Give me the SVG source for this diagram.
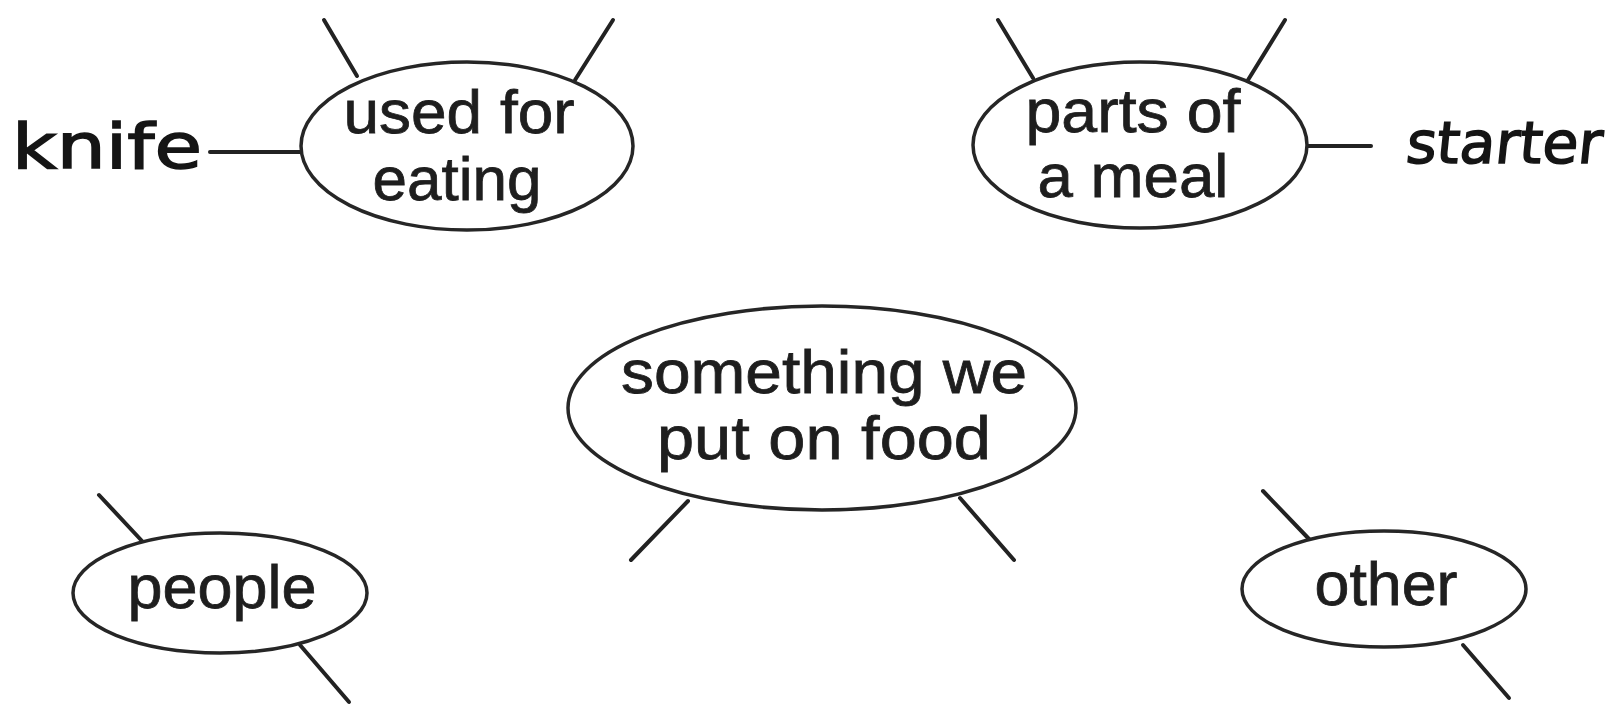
<svg xmlns="http://www.w3.org/2000/svg" width="1610" height="707" viewBox="0 0 1610 707">
<style>
.bg{fill:#ffffff}
.node ellipse{fill:#ffffff;stroke:#262626;stroke-width:3.5}
.lbl{font-family:"Liberation Sans",Arial,sans-serif;font-size:62px;fill:#1e1e1e;stroke:#1e1e1e;stroke-width:0.8;text-anchor:middle}
.hand{font-family:"DejaVu Sans",sans-serif;font-size:62px;fill:#151515;stroke:#151515;stroke-width:1.5}
#connectors line{stroke:#222;stroke-width:4;stroke-linecap:round}
</style>
<rect class="bg" x="0" y="0" width="1610" height="707"/>
<g id="connectors">
  <line x1="324" y1="20" x2="357" y2="76"/>
  <line x1="613" y1="20" x2="575" y2="80"/>
  <line x1="210" y1="152" x2="301" y2="152"/>
  <line x1="998" y1="20" x2="1033" y2="78"/>
  <line x1="1285" y1="20" x2="1248" y2="80"/>
  <line x1="1307" y1="146" x2="1371" y2="146"/>
  <line x1="688" y1="501" x2="631" y2="560"/>
  <line x1="960" y1="498" x2="1014" y2="560"/>
  <line x1="99" y1="495" x2="142" y2="541"/>
  <line x1="300" y1="645" x2="349" y2="702"/>
  <line x1="1263" y1="491" x2="1309" y2="539"/>
  <line x1="1463" y1="645" x2="1509" y2="698"/>
</g>
<g id="node-used-for-eating" class="node">
  <ellipse cx="467" cy="146" rx="166" ry="84"/>
  <text class="lbl" x="459" y="133" textLength="231" lengthAdjust="spacingAndGlyphs">used for</text>
  <text class="lbl" x="457" y="200" textLength="169" lengthAdjust="spacingAndGlyphs">eating</text>
</g>
<g id="node-knife">
  <text class="hand" x="12" y="168" textLength="190" lengthAdjust="spacingAndGlyphs">knife</text>
</g>
<g id="node-parts-of-a-meal" class="node">
  <ellipse cx="1140" cy="145" rx="167" ry="83"/>
  <text class="lbl" x="1133" y="132" textLength="215" lengthAdjust="spacingAndGlyphs">parts of</text>
  <text class="lbl" x="1133" y="197" textLength="191" lengthAdjust="spacingAndGlyphs">a meal</text>
</g>
<g id="node-starter">
  <text class="hand" x="1406" y="163" textLength="196" lengthAdjust="spacingAndGlyphs" transform="translate(0 150) skewX(-6) translate(0 -150)" style="font-size:58px">starter</text>
</g>
<g id="node-something-we-put-on-food" class="node">
  <ellipse cx="822" cy="408" rx="254" ry="102"/>
  <text class="lbl" x="824" y="393" textLength="406" lengthAdjust="spacingAndGlyphs">something we</text>
  <text class="lbl" x="824" y="459" textLength="334" lengthAdjust="spacingAndGlyphs">put on food</text>
</g>
<g id="node-people" class="node">
  <ellipse cx="220" cy="593" rx="147" ry="60"/>
  <text class="lbl" x="222" y="608" textLength="189" lengthAdjust="spacingAndGlyphs">people</text>
</g>
<g id="node-other" class="node">
  <ellipse cx="1384" cy="589" rx="142" ry="58"/>
  <text class="lbl" x="1386" y="605" textLength="143" lengthAdjust="spacingAndGlyphs">other</text>
</g>
</svg>
